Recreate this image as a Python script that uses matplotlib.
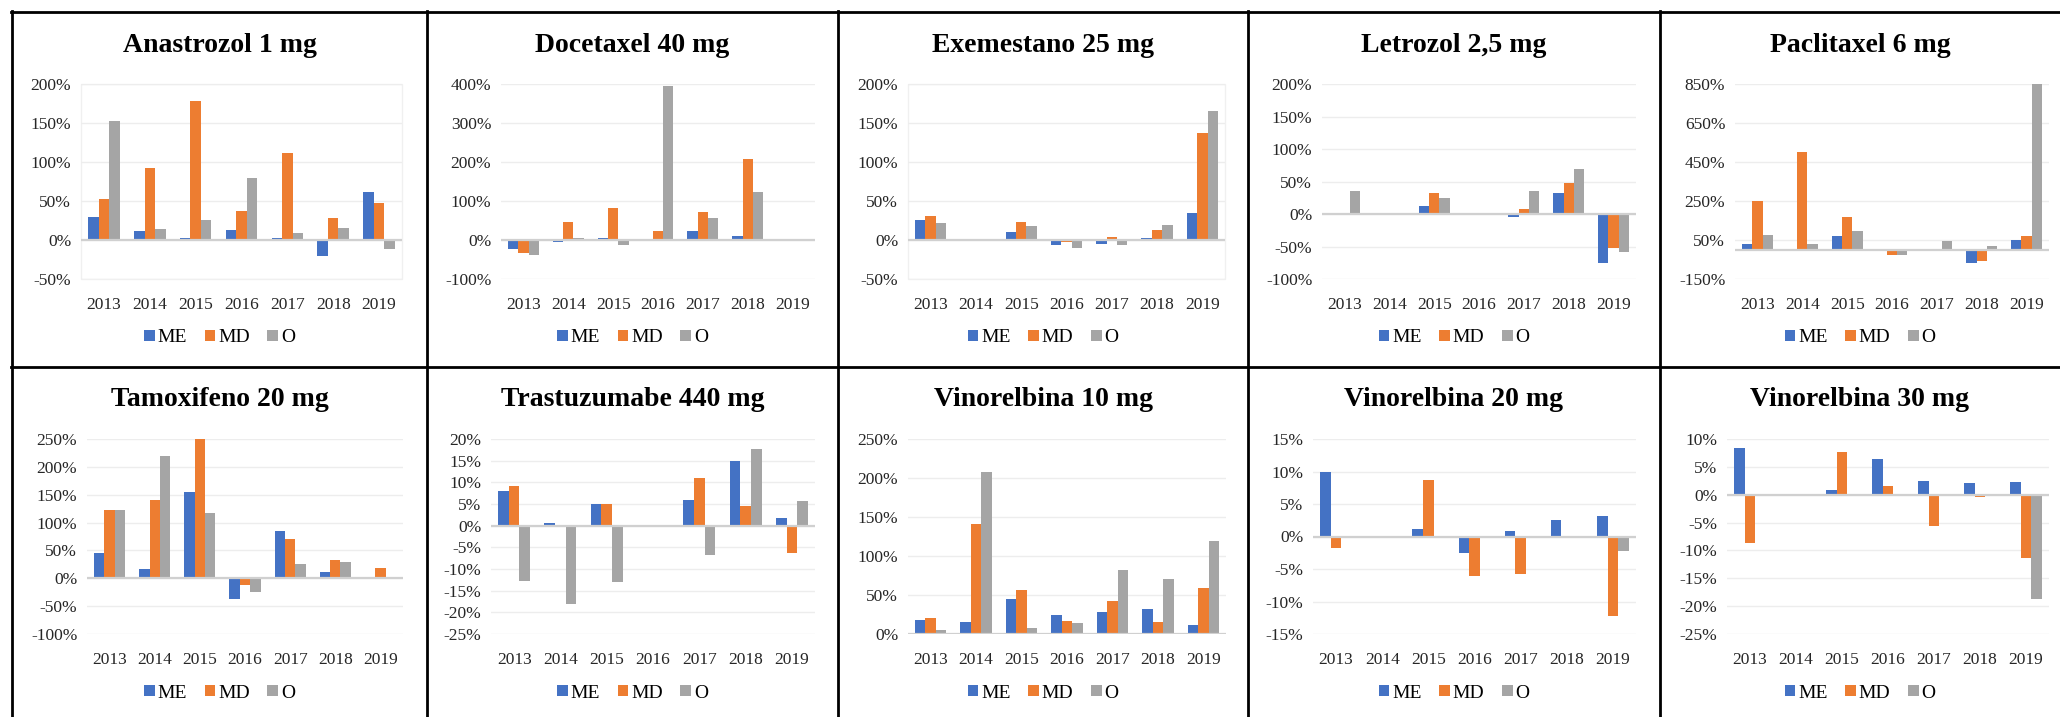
import matplotlib
matplotlib.use("Agg")
import matplotlib.pyplot as plt
from matplotlib.lines import Line2D
from matplotlib.patches import Rectangle
from matplotlib.ticker import FuncFormatter
import numpy as np

plt.rcParams['font.family'] = ['Liberation Serif', 'DejaVu Serif']

years = ["2013", "2014", "2015", "2016", "2017", "2018", "2019"]
series = ["ME", "MD", "O"]
colors = ["#4472C4", "#ED7D31", "#A5A5A5"]

# yearly variation (%) per drug: ME, MD, O
anastrozol_me = [30, 12, 3, 13, 3, -20, 61]
anastrozol_md = [52, 92, 178, 37, 112, 28, 47]
anastrozol_o = [152, 14, 26, 80, 9, 16, -12]

docetaxel_me = [-24, -5, 6, 0, 22, 9, 0]
docetaxel_md = [-33, 47, 81, 22, 73, 207, 0]
docetaxel_o = [-39, 6, -12, 394, 57, 122, 0]

exemestano_me = [26, 0, 10, -6, -5, 3, 35]
exemestano_md = [31, 0, 23, -3, 4, 13, 137]
exemestano_o = [22, 0, 18, -10, -6, 19, 166]

letrozol_me = [0, 0, 12, 0, -5, 33, -76]
letrozol_md = [0, 0, 33, 0, 7, 48, -52]
letrozol_o = [35, 0, 25, 0, 36, 70, -58]

paclitaxel_me = [27, 0, 70, 0, 0, -70, 50]
paclitaxel_md = [252, 500, 166, -26, 0, -57, 70]
paclitaxel_o = [75, 27, 98, -26, 45, 17, 851]

tamoxifeno_me = [45, 17, 154, -38, 85, 11, 0]
tamoxifeno_md = [122, 140, 250, -12, 70, 32, 19]
tamoxifeno_o = [122, 220, 118, -25, 25, 29, 0]

trastuzumabe_me = [8.0, 0.7, 5.0, 0, 5.9, 14.9, 1.7]
trastuzumabe_md = [9.1, 0, 5.0, 0, 11.1, 4.6, -6.2]
trastuzumabe_o = [-12.7, -18.1, -12.9, 0, -6.7, 17.8, 5.6]

vinorelbina10_me = [18.5, 15.5, 45, 25, 28, 32, 12]
vinorelbina10_md = [21, 141, 56, 17, 42.6, 15.5, 58.5]
vinorelbina10_o = [5, 208, 8, 14.6, 82, 70.6, 118.8]

vinorelbina20_me = [10.0, 0, 1.2, -2.6, 0.9, 2.5, 3.1]
vinorelbina20_md = [-1.8, 0, 8.7, -6.1, -5.8, 0, -12.3]
vinorelbina20_o = [0, 0, 0, 0, 0, 0, -2.3]

vinorelbina30_me = [8.4, 0, 0.8, 6.4, 2.5, 2.1, 2.3]
vinorelbina30_md = [-8.7, 0, 7.7, 1.5, -5.7, -0.4, -11.3]
vinorelbina30_o = [0, 0, 0, 0, 0, 0, -18.8]

W, H = 2060, 717
fig = plt.figure(figsize=(W / 100, H / 100), dpi=100)


def fx(px):
    return px / W


def fy(py):
    return 1 - py / H


# name, values, y-range, step, cell (x0, x1), plot box (x0, x1, y0, y1), faint frame
panels = [
    ("Anastrozol 1 mg", (anastrozol_me, anastrozol_md, anastrozol_o), (-50, 200), 50,
     (12, 427), (81, 402, 84, 279), True),
    ("Docetaxel 40 mg", (docetaxel_me, docetaxel_md, docetaxel_o), (-100, 400), 100,
     (427, 838), (501, 815, 84, 279), False),
    ("Exemestano 25 mg", (exemestano_me, exemestano_md, exemestano_o), (-50, 200), 50,
     (838, 1248), (908, 1225, 84, 279), True),
    ("Letrozol 2,5 mg", (letrozol_me, letrozol_md, letrozol_o), (-100, 200), 50,
     (1248, 1660), (1322, 1636, 84, 279), False),
    ("Paclitaxel 6 mg", (paclitaxel_me, paclitaxel_md, paclitaxel_o), (-150, 850), 200,
     (1660, 2060), (1735, 2049, 84, 279), False),
    ("Tamoxifeno 20 mg", (tamoxifeno_me, tamoxifeno_md, tamoxifeno_o), (-100, 250), 50,
     (12, 427), (87, 403, 439, 634), False),
    ("Trastuzumabe 440 mg", (trastuzumabe_me, trastuzumabe_md, trastuzumabe_o), (-25, 20), 5,
     (427, 838), (491, 815, 439, 634), False),
    ("Vinorelbina 10 mg", (vinorelbina10_me, vinorelbina10_md, vinorelbina10_o), (0, 250), 50,
     (838, 1248), (908, 1226, 439, 634), False),
    ("Vinorelbina 20 mg", (vinorelbina20_me, vinorelbina20_md, vinorelbina20_o), (-15, 15), 5,
     (1248, 1660), (1313, 1636, 439, 634), False),
    ("Vinorelbina 30 mg", (vinorelbina30_me, vinorelbina30_md, vinorelbina30_o), (-25, 10), 5,
     (1660, 2060), (1727, 2049, 439, 634), False),
]

x = np.arange(len(years))
bw = 0.23
pct = FuncFormatter(lambda v, p: f"{v:.0f}%")

for name, vals, (lo, hi), step, (cx0, cx1), (px0, px1, py0, py1), frame in panels:
    ax = fig.add_axes([fx(px0), fy(py1), fx(px1 - px0), (py1 - py0) / H])
    for k, (s, c) in enumerate(zip(series, colors)):
        ax.bar(x + (k - 1) * bw, vals[k], bw, color=c, label=s, zorder=3)
    ax.set_xlim(-0.5, len(years) - 0.5)
    ax.set_ylim(lo, hi)
    ax.set_yticks(np.arange(lo, hi + step / 2, step))
    ax.yaxis.set_major_formatter(pct)
    ax.set_xticks(x)
    ax.set_xticklabels(years)
    ax.tick_params(length=0, labelsize=12.5, colors="#262626", pad=7)
    ax.tick_params(axis="x", pad=13)
    ax.grid(axis="y", color="#EDEDED", lw=1, zorder=0)
    ax.axhline(0, color="#D0D0D0", lw=1.6, zorder=4)
    for sp in ax.spines.values():
        sp.set_visible(False)
    if frame:
        ax.add_patch(Rectangle((0, 0), 1, 1, transform=ax.transAxes, fill=False,
                               ec="#F0F0F0", lw=1, zorder=0, clip_on=False))

    cxm = (cx0 + cx1) / 2
    fig.text(fx(cxm), fy(py0 - 39), name, ha="center", va="center",
             fontsize=20, fontweight="bold")
    ax.legend(loc="center", bbox_to_anchor=(fx(cxm), fy(py1 + 59)),
              bbox_transform=fig.transFigure, ncol=3, frameon=False,
              fontsize=14, handlelength=0.55, handleheight=0.55,
              handletextpad=0.15, columnspacing=0.9, borderpad=0)

# table cell borders
border_kw = dict(color="black", lw=2, transform=fig.transFigure)
for yb in (12, 367):
    fig.add_artist(Line2D([fx(11), 1], [fy(yb), fy(yb)], **border_kw))
for xb in (12, 427, 838, 1248, 1660):
    fig.add_artist(Line2D([fx(xb), fx(xb)], [fy(11), 0], **border_kw))

fig.savefig("out.png", dpi=100, facecolor="white")
